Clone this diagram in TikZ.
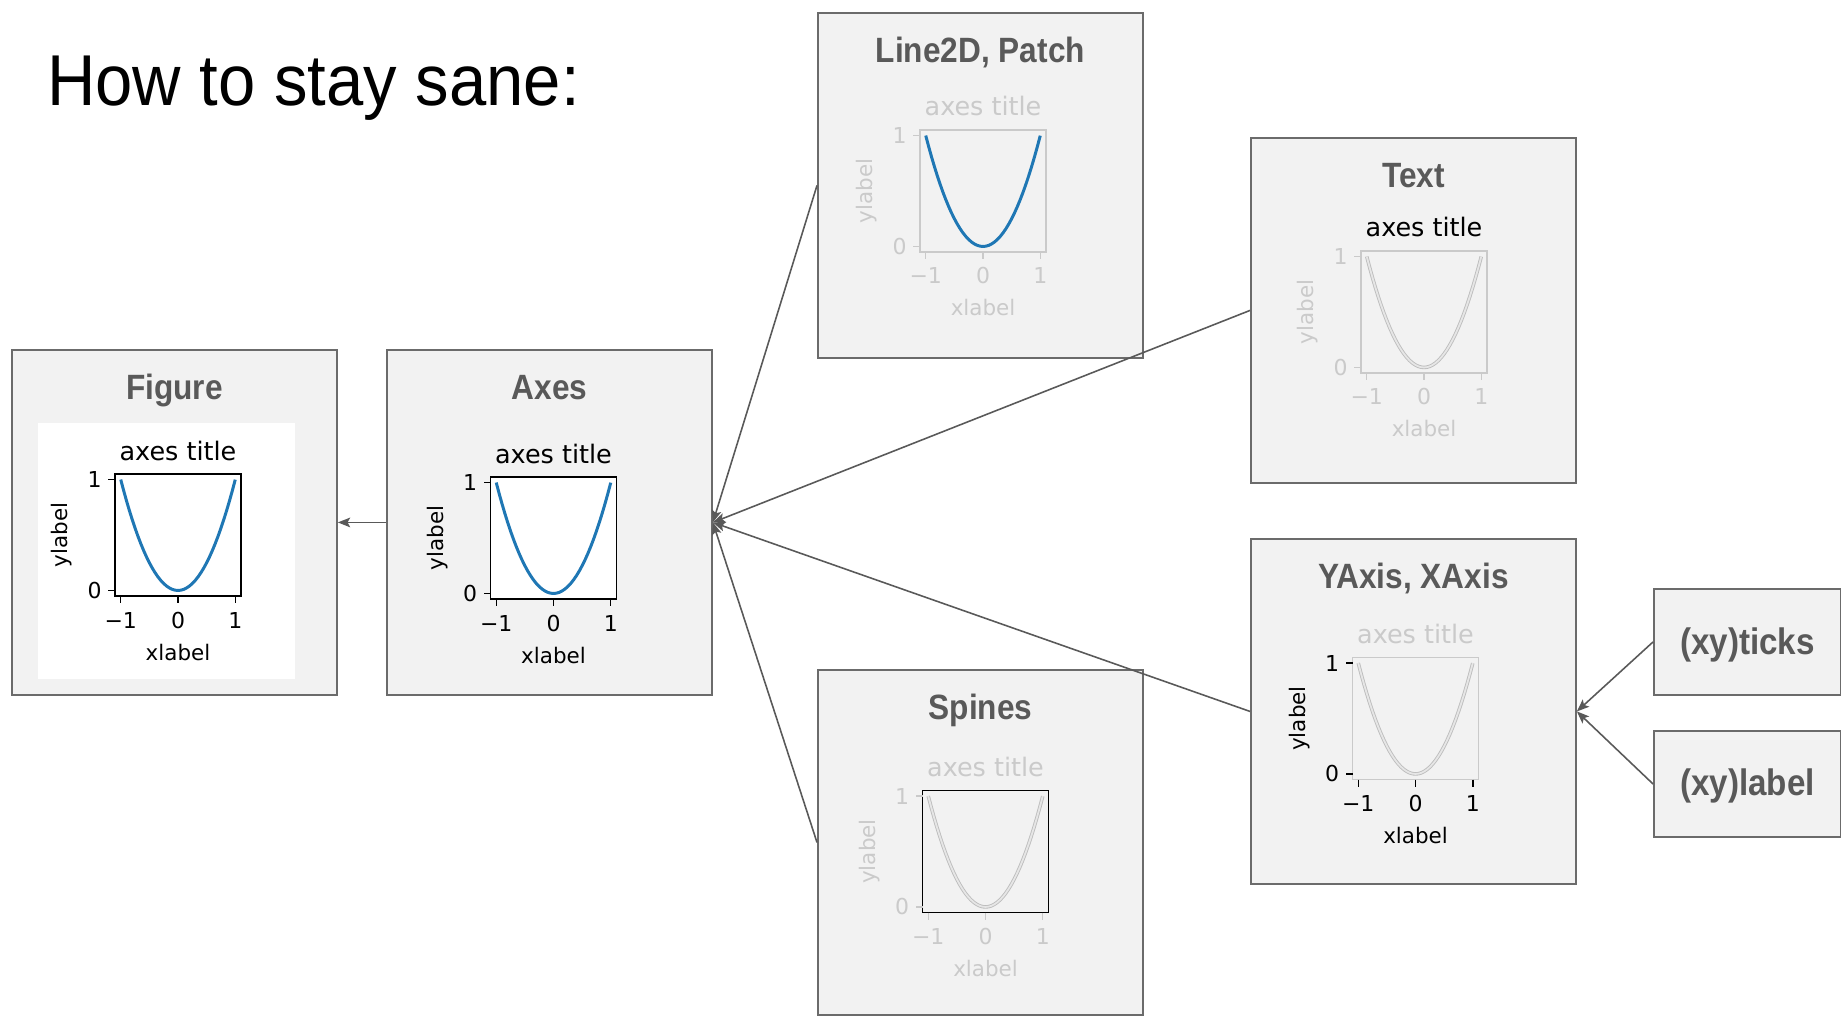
\documentclass[tikz,border=0pt]{standalone}
\usepackage{fontspec}
\setmainfont{Liberation Sans}
\newfontfamily\headfont[FakeStretch=0.93]{Liberation Sans}
\newfontfamily\namefont[FakeStretch=0.9]{Liberation Sans}
\newfontfamily\plotfont{DejaVu Sans}
\usetikzlibrary{arrows.meta}

\definecolor{boxfill}{HTML}{F2F2F2}
\definecolor{boxline}{HTML}{6B6B6B}
\definecolor{linegray}{HTML}{595959}
\definecolor{faded}{HTML}{CACACA}
\definecolor{fadeline}{HTML}{BDBDBD}
\definecolor{fadefill}{HTML}{E6E6E6}
\definecolor{mplblue}{HTML}{1F77B4}

\tikzset{
  box/.style={draw=boxline, fill=boxfill, line width=1.1pt, minimum width=6.5cm, minimum height=6.9cm, anchor=north west, inner sep=0pt},
  smallbox/.style={box, minimum width=3.74cm, minimum height=2.12cm},
  boxname/.style={anchor=base, inner sep=0pt, text=linegray, font=\namefont\bfseries\fontsize{20}{24}\selectfont},
  conn/.style={draw=linegray, line width=0.9pt, -{Stealth[length=7pt,width=5.5pt,inset=1.5pt]}},
  plottitle/.style={anchor=base, inner sep=0pt, font=\plotfont\fontsize{14.5}{17}\selectfont},
  axlabel/.style={inner sep=0pt, font=\plotfont\fontsize{12.2}{15}\selectfont},
  ticktext/.style={anchor=base, inner sep=0pt, font=\plotfont\fontsize{12.5}{15}\selectfont},
  blackframe/.style={draw=black, line width=0.9pt},
  fadedframe/.style={draw=faded, line width=0.6pt},
  bluecurve/.style={draw=mplblue, line width=1.7pt},
  fadedcurve/.style={draw=fadeline, double=fadefill, double distance=1pt, line width=0.5pt}
}

% #1 name, #2 top left of the frame, #3 frame, #4 curve, #5 title colour, #6 axis colour
\newcommand{\miniplot}[6]{%
  \begin{scope}[shift={#2}]
    \draw[#3] (0,0) rectangle (126,122);
    \draw[#4] plot[domain=-1:1, samples=41] ({(\x+1.1)*126/2.2},{122-((\x)^2+0.05)*122/1.1});
    \node[plottitle, text=#5] (#1title) at (63,-14) {axes title};
    \foreach \t/\lab in {-1/−1,0/0,1/1}{
      \draw[#6, line width=0.8pt] ({(\t+1.1)*126/2.2},122) -- ++(0,7);
      \node[ticktext, text=#6] (#1x\t) at ({(\t+1.1)*126/2.2},154) {\lab};
    }
    \foreach \t in {0,1}{
      \draw[#6, line width=0.8pt] (0,{122-(\t+0.05)*122/1.1}) -- ++(-7,0);
      \node[ticktext, anchor=east, text=#6] (#1y\t) at (-13,{122-(\t+0.05)*122/1.1}) {\t};
    }
    \node[axlabel, anchor=base, text=#6] (#1xlab) at (63,186) {xlabel};
    \node[axlabel, rotate=90, text=#6] (#1ylab) at (-53,61) {ylabel};
  \end{scope}}

\begin{document}
\begin{tikzpicture}[x=0.02cm, y=-0.02cm]
\useasboundingbox (0,0) rectangle (1841,1016);

\node[anchor=base west, inner sep=0pt, font=\headfont\fontsize{41}{48}\selectfont] (sane) at (47,106) {How to stay sane:};

% boxes
\node[box] (figbox) at (11,349) {};
\node[box] (axbox) at (386,349) {};
\node[box] (linebox) at (817,12) {};
\node[box] (textbox) at (1250,137) {};
\node[box] (spinebox) at (817,669) {};
\node[box] (axisbox) at (1250,538) {};
\node[smallbox] (tickbox) at (1653,588) {};
\node[smallbox] (labelbox) at (1653,730) {};

\node[boxname] (figname) at ([yshift=-1.02cm]figbox.north) {Figure};
\node[boxname] (axname) at ([yshift=-1.02cm]axbox.north) {Axes};
\node[boxname] (linename) at ([yshift=-1.02cm]linebox.north) {Line2D, Patch};
\node[boxname] (textname) at ([yshift=-1.02cm]textbox.north) {Text};
\node[boxname] (spinename) at ([yshift=-1.02cm]spinebox.north) {Spines};
\node[boxname] (axisname) at ([yshift=-1.02cm]axisbox.north) {YAxis, XAxis};
\node[boxname, font=\namefont\bfseries\fontsize{21}{25}\selectfont] (tickname) at ([yshift=-0.26cm]tickbox.center) {(xy)ticks};
\node[boxname, font=\namefont\bfseries\fontsize{21}{25}\selectfont] (labelname) at ([yshift=-0.24cm]labelbox.center) {(xy)label};

% the little plots
\fill[white] (38,423) rectangle (295,679);
\miniplot{fig}{(115,474)}{blackframe}{bluecurve}{black}{black}
\miniplot{ax}{(490.5,477)}{blackframe, fill=white}{bluecurve}{black}{black}
\miniplot{line}{(920,130)}{fadedframe}{bluecurve}{faded}{faded}
\miniplot{text}{(1361,251)}{fadedframe}{fadedcurve}{black}{faded}
\miniplot{spine}{(922.5,790.5)}{blackframe}{fadedcurve}{faded}{faded}
\miniplot{axis}{(1352.5,657.5)}{fadedframe}{fadedcurve}{faded}{black}

% connectors
\draw[conn] (axbox.west) -- (figbox.east);
\draw[conn] (linebox.west) -- (axbox.east);
\draw[conn] (textbox.west) -- (axbox.east);
\draw[conn] (spinebox.west) -- (axbox.east);
\draw[conn] (axisbox.west) -- (axbox.east);
\draw[conn] (tickbox.west) -- (axisbox.east);
\draw[conn] (labelbox.west) -- (axisbox.east);
\end{tikzpicture}
\end{document}
